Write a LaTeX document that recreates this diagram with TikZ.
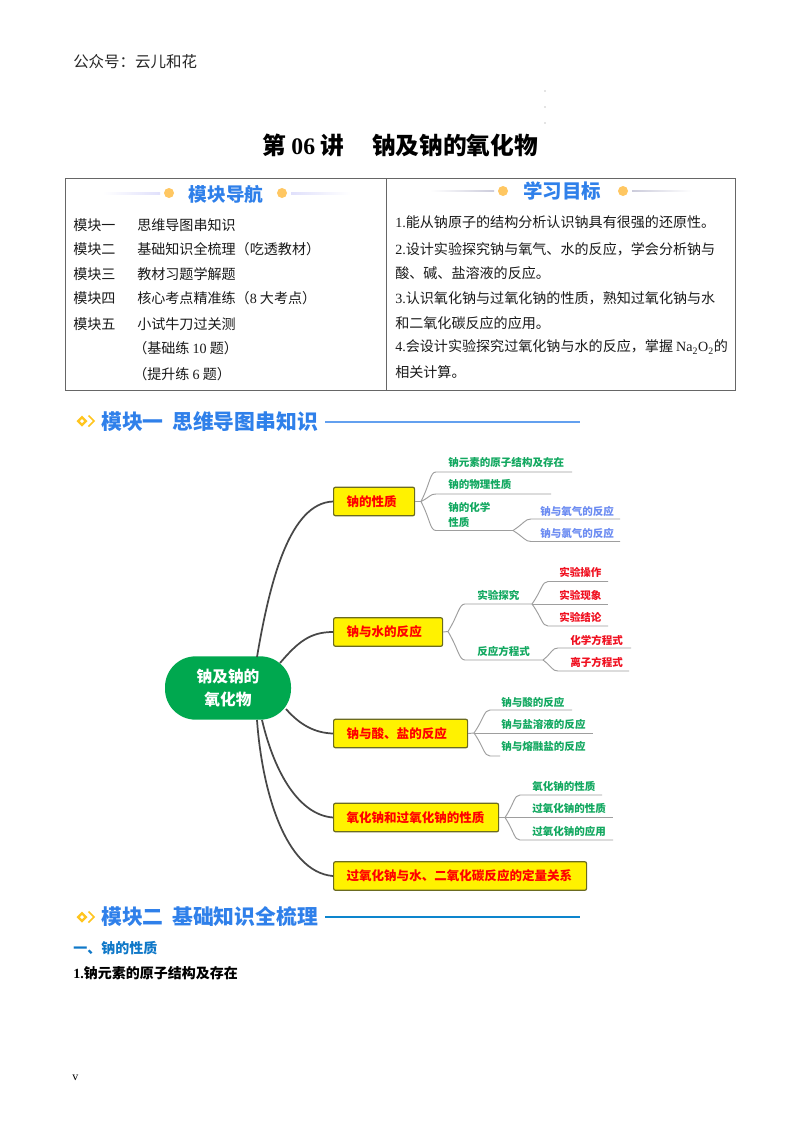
\documentclass[tikz,border=0pt]{standalone}
\usepackage{fontspec}
\usetikzlibrary{calc}
\setmainfont{Noto Sans CJK SC}
\newfontfamily\tm{Liberation Serif}
\definecolor{rootg}{HTML}{00A84F}
\definecolor{leafg}{HTML}{12A860}
\definecolor{leafb}{HTML}{6C8CF2}
\definecolor{leafr}{HTML}{F01020}
\definecolor{headb}{HTML}{2F80EA}
\definecolor{secb}{HTML}{0F78C8}
\definecolor{dotc}{HTML}{FFC762}
\definecolor{iconc}{HTML}{FFC51E}
\definecolor{boxl}{HTML}{6B6B20}
\definecolor{tabl}{HTML}{666666}
\newcommand{\fs}[1]{\fontsize{#1}{#1}\selectfont}
\tikzset{
 x=0.75pt,y=-0.75pt,
 txt/.style={anchor=west,inner sep=0pt,text=#1},
 txt/.default=black,
 body/.style={txt=black!90,font=\fs{10.55pt}},
 leafg/.style={txt=leafg,font=\fs{7.9pt}\bfseries},
 leafb/.style={txt=leafb,font=\fs{7.9pt}\bfseries},
 leafr/.style={txt=leafr,font=\fs{7.9pt}\bfseries},
 ybox/.style={anchor=west,draw=boxl,line width=0.9pt,fill=yellow,rounded corners=1.5pt,
   minimum height=21.5pt,inner xsep=9.75pt,inner ysep=0pt,align=left,text=red,
   font=\fs{9.4pt}\bfseries,text width=#1},
 rootbox/.style={fill=rootg,rounded corners=23pt,minimum width=94.5pt,minimum height=47.5pt,
   inner sep=0pt,text=white,align=center,font=\fs{11.8pt}\bfseries},
 mainc/.style={draw=black!72,line width=1.3pt},
 branch/.style={draw=black!38,line width=0.7pt},
 modh/.style={txt=headb,font=\fs{15.6pt}\bfseries},
 navh/.style={anchor=center,inner sep=0pt,text=headb,font=\fs{14pt}\bfseries},
 dotn/.style={circle,fill=dotc,minimum size=7.5pt,inner sep=0pt},
 rule/.style={line width=0.8pt},
}
% from junction #1 through curve to point #2 then on to end #3
\newcommand{\brc}[3]{\draw[branch] (#1) .. controls ($(#1)!0.62!(#2)$) and ($(#2)+(-6,0)$) .. (#2) -- (#3);}
\newcommand{\modicon}[2]{%
 \fill[iconc] (#1-5.5,#2) -- (#1,#2-5.5) -- (#1+5.5,#2) -- (#1,#2+5.5) -- cycle;
 \fill[white] (#1-2,#2) -- (#1,#2-2) -- (#1+2,#2) -- (#1,#2+2) -- cycle;
 \draw[iconc,line width=1.2pt] (#1+6.5,#2-5.5) -- (#1+12,#2) -- (#1+6.5,#2+5.5);}
\begin{document}
\begin{tikzpicture}
\useasboundingbox (0,0) rectangle (800,1132);
\fill[white] (0,0) rectangle (800,1132);

% page head
\node[txt=black!85,font=\fs{11.6pt}] (wm) at (73,62) {公众号：云儿和花};
\foreach \yy in {91,107,123} \fill[black!45] (545,\yy) circle (0.4pt);
\node[txt,font=\fs{17.8pt}\bfseries] (title) at (262,145) {第 {\tm 06} 讲\hspace{20.8pt}钠及钠的氧化物};

% table
\draw[tabl,line width=0.6pt] (65,178) rectangle (735,390);
\draw[tabl,line width=0.6pt] (386,178) -- (386,390);
\shade[left color=white,right color=black!12!blue!12] (103,192.5) rectangle (160,194);
\shade[right color=white,left color=black!12!blue!12] (291,192.5) rectangle (350,194);
\node[dotn] (d1) at (169,193) {};
\node[dotn] (d2) at (282,193) {};
\node[navh] (h1) at (226,194) {模块导航};
\shade[left color=white,right color=blue!30!black!20] (430,190) rectangle (494,191.5);
\shade[right color=white,left color=blue!30!black!20] (632,190) rectangle (692,191.5);
\node[dotn] (d3) at (503,191) {};
\node[dotn] (d4) at (623,191) {};
\node[navh,font=\fs{14.6pt}\bfseries] (h2) at (562,191) {学习目标};

\node[body] (a1) at (73,225) {模块一};
\node[body] (a2) at (73,249) {模块二};
\node[body] (a3) at (73,274) {模块三};
\node[body] (a4) at (73,298) {模块四};
\node[body] (a5) at (73,324) {模块五};
\node[body] (b1) at (137,225) {思维导图串知识};
\node[body] (b2) at (137,249) {基础知识全梳理（吃透教材）};
\node[body] (b3) at (137,274) {教材习题学解题};
\node[body] (b4) at (137,298) {核心考点精准练（{\tm 8} 大考点）};
\node[body] (b5) at (137,324) {小试牛刀过关测};
\node[body] (b6) at (133,348) {（基础练 {\tm 10} 题）};
\node[body] (b7) at (133,374) {（提升练 {\tm 6} 题）};

\node[body] (c1) at (395,222) {{\tm 1.}能从钠原子的结构分析认识钠具有很强的还原性。};
\node[body] (c2) at (395,249) {{\tm 2.}设计实验探究钠与氧气、水的反应，学会分析钠与};
\node[body] (c3) at (395,273) {酸、碱、盐溶液的反应。};
\node[body] (c4) at (395,298) {{\tm 3.}认识氧化钠与过氧化钠的性质，熟知过氧化钠与水};
\node[body] (c5) at (395,323) {和二氧化碳反应的应用。};
\node[body] (c6) at (395,347) {{\tm 4.}会设计实验探究过氧化钠与水的反应，掌握 {\tm Na\textsubscript{2}O\textsubscript{2}}的};
\node[body] (c7) at (395,372) {相关计算。};

% module 1 heading
\modicon{82}{421}
\node[modh] (m1) at (101,422) {模块一\hspace{6.5pt}思维导图串知识};
\coordinate (m1e) at (580,422);
\draw[rule,draw=headb!75] (325,422) -- (m1e);

% mind map
\node[rootbox] (root) at (228,688) {钠及钠的\\[5pt]氧化物};
\node[ybox=41.25pt] (n1) at (333,501.5) {钠的性质};
\node[ybox=62.25pt] (n2) at (333,632) {钠与水的反应};
\node[ybox=81pt] (n3) at (333,733.5) {钠与酸、盐的反应};
\node[ybox=104.25pt] (n4) at (333,817.5) {氧化钠和过氧化钠的性质};
\node[ybox=170.25pt] (n5) at (333,876) {过氧化钠与水、二氧化碳反应的定量关系};

\coordinate (r1) at (257,657);
\coordinate (r2) at (280,663);
\coordinate (r3) at (286,709);
\coordinate (r4) at (262,720);
\coordinate (r5) at (257,720);
\draw[mainc] (r1) .. controls (270,580) and (290,503) .. (n1.west);
\draw[mainc] (r2) .. controls (298,642) and (310,632) .. (n2.west);
\draw[mainc] (r3) .. controls (300,725) and (315,733) .. (n3.west);
\draw[mainc] (r4) .. controls (275,775) and (300,815) .. (n4.west);
\draw[mainc] (r5) .. controls (262,790) and (285,872) .. (n5.west);

% branch 1
\coordinate (j1) at (421,501.5);
\draw[branch] (n1.east) -- (j1);
\node[leafg] (l11) at (448,462) {钠元素的原子结构及存在};
\node[leafg] (l12) at (448,484) {钠的物理性质};
\node[leafg,align=left] (l13) at (448,515) {钠的化学\\[4pt]性质};
\node[leafb] (l131) at (540,511) {钠与氧气的反应};
\node[leafb] (l132) at (540,533) {钠与氯气的反应};
\coordinate (p11) at (436,472); \coordinate (e11) at (572,472);
\coordinate (p12) at (436,494); \coordinate (e12) at (551,494);
\coordinate (p13) at (436,530.5); \coordinate (j13) at (513,530.5);
\coordinate (p131) at (531,519); \coordinate (e131) at (620,519);
\coordinate (p132) at (531,541.5); \coordinate (e132) at (620,541.5);
\brc{j1}{p11}{e11}
\brc{j1}{p12}{e12}
\brc{j1}{p13}{j13}
\brc{j13}{p131}{e131}
\brc{j13}{p132}{e132}

% branch 2
\coordinate (j2) at (448,631.5);
\draw[branch] (n2.east) -- (j2);
\node[leafg] (l21) at (477,595) {实验探究};
\node[leafg] (l22) at (477,651) {反应方程式};
\node[leafr] (l211) at (559,572) {实验操作};
\node[leafr] (l212) at (559,595) {实验现象};
\node[leafr] (l213) at (559,617) {实验结论};
\node[leafr] (l221) at (570,640) {化学方程式};
\node[leafr] (l222) at (570,662) {离子方程式};
\coordinate (p21) at (465,604); \coordinate (j21) at (532,604);
\coordinate (p22) at (465,660); \coordinate (j22) at (543,660);
\coordinate (p211) at (548,581.5); \coordinate (e211) at (608,581.5);
\coordinate (e212) at (608,604);
\coordinate (p213) at (548,626); \coordinate (e213) at (608,626);
\coordinate (p221) at (558,648); \coordinate (e221) at (631,648);
\coordinate (p222) at (558,671); \coordinate (e222) at (629,671);
\brc{j2}{p21}{j21}
\brc{j2}{p22}{j22}
\brc{j21}{p211}{e211}
\draw[branch] (j21) -- (e212);
\brc{j21}{p213}{e213}
\brc{j22}{p221}{e221}
\brc{j22}{p222}{e222}

% branch 3
\coordinate (j3) at (474,733);
\draw[branch] (n3.east) -- (j3);
\node[leafg] (l31) at (501,702) {钠与酸的反应};
\node[leafg] (l32) at (501,724) {钠与盐溶液的反应};
\node[leafg] (l33) at (501,746) {钠与熔融盐的反应};
\coordinate (p31) at (490,710); \coordinate (e31) at (572,710);
\coordinate (e32) at (593,733);
\coordinate (p33) at (490,756); \coordinate (e33) at (500,756);
\brc{j3}{p31}{e31}
\draw[branch] (j3) -- (e32);
\brc{j3}{p33}{e33}

% branch 4
\coordinate (j4) at (505,817.5);
\draw[branch] (n4.east) -- (j4);
\node[leafg] (l41) at (532,786) {氧化钠的性质};
\node[leafg] (l42) at (532,808) {过氧化钠的性质};
\node[leafg] (l43) at (532,831) {过氧化钠的应用};
\coordinate (p41) at (520,795); \coordinate (e41) at (602,795);
\coordinate (e42) at (613,817.5);
\coordinate (p43) at (520,840); \coordinate (e43) at (613,840);
\brc{j4}{p41}{e41}
\draw[branch] (j4) -- (e42);
\brc{j4}{p43}{e43}

% module 2
\modicon{82}{917}
\node[modh] (m2) at (101,917) {模块二\hspace{6.5pt}基础知识全梳理};
\coordinate (m2e) at (580,917);
\draw[rule,draw=secb!90!cyan] (325,917) -- (m2e);
\node[txt=secb,font=\fs{10.5pt}\bfseries] (s1) at (73,948) {一、钠的性质};
\node[txt,font=\fs{10.5pt}\bfseries] (s2) at (73,973) {{\tm 1.}钠元素的原子结构及存在};
\node[txt,font=\tm\fs{9pt}] (v) at (72,1078) {v};
\end{tikzpicture}
\end{document}
